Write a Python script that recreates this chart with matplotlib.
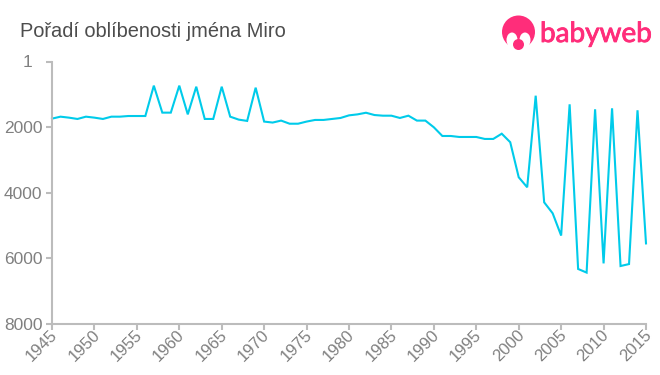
import matplotlib

matplotlib.use("Agg")
import matplotlib.patheffects as pe
import matplotlib.pyplot as plt
from matplotlib.patches import Circle, Ellipse, Rectangle
from matplotlib.transforms import ScaledTranslation

TITLE = "Pořadí oblíbenosti jména Miro"
LOGO_TEXT = "babyweb"

years = list(range(1945, 2016))
ranks = [
    1730, 1670, 1700, 1740, 1670, 1700, 1740, 1670, 1670, 1650,
    1650, 1650, 723, 1547, 1547, 723, 1600, 755, 1740, 1740,
    755, 1670, 1760, 1800, 785, 1820, 1850, 1790, 1885, 1885,
    1820, 1770, 1770, 1740, 1710, 1630, 1600, 1550, 1620, 1640,
    1640, 1710, 1640, 1790, 1790, 1995, 2260, 2260, 2290, 2290,
    2290, 2350, 2350, 2190, 2450, 3520, 3826, 1030, 4285, 4620,
    5300, 1293, 6320, 6430, 1445, 6150, 1415, 6230, 6170, 1475,
    5540,
]
x_ticks = list(range(1945, 2016, 5))
y_ticks = [1, 2000, 4000, 6000, 8000]

LINE_COLOR = "#00cbea"
AXIS_COLOR = "#bcbcbc"
LABEL_COLOR = "#808080"
TITLE_COLOR = "#4d4d4d"
LOGO_COLOR = "#ff2d7a"

W, H = 660, 375
plt.rcParams["font.family"] = ["Liberation Sans", "DejaVu Sans"]

fig = plt.figure(figsize=(W / 100, H / 100), dpi=100)
ax = fig.add_axes([52 / W, 1 - 324 / H, 594 / W, 262 / H])

ax.plot(years, ranks, color=LINE_COLOR, linewidth=1.5, solid_joinstyle="miter", clip_on=False)

ax.set_xlim(1945, 2015)
ax.set_ylim(8000, 1)
ax.set_xticks(x_ticks)
ax.set_yticks(y_ticks)
ax.set_xticklabels(x_ticks, rotation=45, ha="right", va="center", rotation_mode="anchor")

ax.spines["top"].set_visible(False)
ax.spines["right"].set_visible(False)
for side in ("left", "bottom"):
    ax.spines[side].set_color(AXIS_COLOR)
    ax.spines[side].set_linewidth(1.5)
ax.tick_params(axis="both", colors=AXIS_COLOR, labelcolor=LABEL_COLOR, width=1.5, length=4)
ax.tick_params(axis="y", labelsize=12.5, pad=3)
ax.tick_params(axis="x", labelsize=12, pad=2)

# the "1" sits further left than the other rank labels in the original
top_label = ax.get_yticklabels()[0]
top_label.set_transform(top_label.get_transform() + ScaledTranslation(-10 / 100, 1 / 100, fig.dpi_scale_trans))
for label in ax.get_xticklabels():
    label.set_transform(label.get_transform() + ScaledTranslation(3 / 100, 0, fig.dpi_scale_trans))

fig.text(20 / W, 1 - 37 / H, TITLE, color=TITLE_COLOR, fontsize=14.4, va="baseline", ha="left")

# logo drawn on a full-figure overlay in pixel units
overlay = fig.add_axes([0, 0, 1, 1], facecolor="none")
overlay.set_xlim(0, W)
overlay.set_ylim(H, 0)
overlay.axis("off")
overlay.add_patch(Circle((518.5, 32), 16.5, color=LOGO_COLOR, lw=0))
overlay.add_patch(Ellipse((512, 40), 11, 15, color="white", lw=0))
overlay.add_patch(Ellipse((525, 40), 11, 15, color="white", lw=0))
overlay.add_patch(Rectangle((498, 44.5), 42, 8, color="white", lw=0))
overlay.add_patch(Circle((518.5, 44.5), 5.5, color=LOGO_COLOR, lw=0))
logo = overlay.text(540, 42, LOGO_TEXT, color=LOGO_COLOR, fontsize=20.1,
                    family=["Lato", "DejaVu Sans"], va="baseline", ha="left")
logo.set_path_effects([pe.withStroke(linewidth=0.6, foreground=LOGO_COLOR)])

fig.savefig("out.png", dpi=100)
plt.close(fig)
